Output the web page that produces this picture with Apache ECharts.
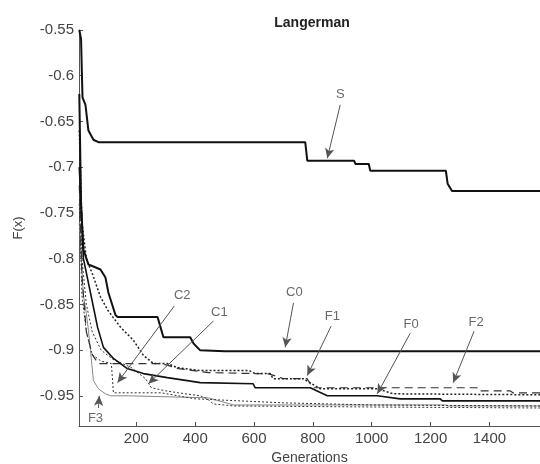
<!DOCTYPE html>
<html><head><meta charset="utf-8">
<script src="https://cdn.jsdelivr.net/npm/echarts@6/dist/echarts.min.js"></script>
<style>html,body{margin:0;padding:0;background:#fff}#c{width:540px;height:464px}</style>
</head><body><div id="c"></div>
<script>
const chartTitle = 'Langerman';
const xName = 'Generations';
const yName = 'F(x)';
const xTicks = [200, 400, 600, 800, 1000, 1200, 1400];
const yTicks = [-0.95, -0.9, -0.85, -0.8, -0.75, -0.7, -0.65, -0.6, -0.55];

const S  = [[6,-0.55],[12,-0.56],[15,-0.60],[17,-0.624],[27,-0.632],[37,-0.660],[54,-0.670],[71,-0.6727],[774,-0.6727],[781,-0.6929],[940,-0.6929],[945,-0.6966],[990,-0.6966],[995,-0.7039],[1252,-0.7039],[1258,-0.718],[1273,-0.726],[1572,-0.726]];
const C0 = [[6,-0.62],[12,-0.74],[20,-0.79],[37,-0.8064],[54,-0.8086],[78,-0.8119],[95,-0.8207],[105,-0.8373],[129,-0.8616],[136,-0.8638],[272,-0.8638],[282,-0.8749],[292,-0.8859],[383,-0.8859],[394,-0.8926],[417,-0.9003],[500,-0.9014],[1572,-0.9014]];
const F1 = [[6,-0.66],[15,-0.76],[30,-0.80],[54,-0.8196],[61,-0.8263],[78,-0.8417],[102,-0.8561],[146,-0.8749],[190,-0.8893],[224,-0.9058],[258,-0.9147],[305,-0.9147],[339,-0.9191],[417,-0.9224],[584,-0.9224],[604,-0.9257],[655,-0.9257],[665,-0.9312],[767,-0.9312],[825,-0.9423],[1019,-0.9423],[1073,-0.9478],[1572,-0.9489]];
const F0 = [[6,-0.70],[20,-0.80],[44,-0.8373],[68,-0.8749],[88,-0.8970],[122,-0.9091],[169,-0.9202],[224,-0.9257],[305,-0.9301],[373,-0.9334],[417,-0.9356],[597,-0.9368],[604,-0.9412],[791,-0.9412],[849,-0.9500],[1019,-0.9500],[1097,-0.9533],[1233,-0.9533],[1240,-0.9555],[1572,-0.9555]];
const F2 = [[6,-0.72],[15,-0.82],[30,-0.88],[50,-0.905],[71,-0.9147],[285,-0.9147],[343,-0.9202],[445,-0.9246],[650,-0.9260],[700,-0.9312],[780,-0.9312],[800,-0.9412],[1358,-0.9412],[1362,-0.9445],[1470,-0.9445],[1480,-0.9467],[1572,-0.9467]];
const C1 = [[6,-0.70],[15,-0.80],[30,-0.85],[50,-0.88],[80,-0.90],[120,-0.91],[183,-0.9191],[231,-0.9312],[251,-0.9412],[299,-0.9445],[343,-0.9467],[417,-0.9500],[441,-0.9533],[462,-0.9589],[530,-0.9611],[1000,-0.9622],[1572,-0.9633]];
const C2 = [[6,-0.74],[15,-0.84],[30,-0.88],[50,-0.905],[80,-0.912],[115,-0.9147],[119,-0.9147],[122,-0.9467],[285,-0.9467],[400,-0.9533],[700,-0.9577],[1000,-0.9600],[1572,-0.9611]];
const F3 = [[6,-0.76],[20,-0.84],[30,-0.86],[37,-0.8782],[44,-0.9003],[54,-0.9334],[71,-0.9423],[95,-0.9478],[112,-0.9500],[173,-0.9500],[445,-0.9522],[530,-0.9600],[1250,-0.9600],[1260,-0.9611],[1572,-0.9611]];

// annotations: [label, labelX, labelY, arrowStartX, arrowStartY, arrowEndX, arrowEndY]
const annotations = [
  ['S', 893, -0.6207, 893, -0.6318, 849, -0.6903],
  ['C0', 737, -0.8373, 734, -0.8484, 706, -0.8970],
  ['C2', 356, -0.8406, 329, -0.8517, 136, -0.9356],
  ['C1', 482, -0.8583, 462, -0.8682, 241, -0.9368],
  ['F1', 866, -0.8627, 862, -0.8738, 781, -0.9279],
  ['F0', 1134, -0.8716, 1131, -0.8815, 1019, -0.9478],
  ['F2', 1355, -0.8694, 1348, -0.8793, 1277, -0.9356],
  ['F3', 61, -0.9743, 71, -0.9633, 74, -0.9500]
];

const font = 'Liberation Sans, Arial, sans-serif';
const chart = echarts.init(document.getElementById('c'), null, {renderer: 'canvas'});

function line(name, data, color, width, type) {
  return {name, type: 'line', data, showSymbol: false, symbol: 'none', silent: true,
    lineStyle: {color, width, type}, z: 3, clip: true};
}

const option = {
  animation: false,
  backgroundColor: '#fff',
  title: {text: chartTitle, left: 307, top: 11, textAlign: 'center',
    textStyle: {fontFamily: font, fontSize: 14, fontWeight: 'bold', color: '#222'}},
  grid: {left: 79, right: 0, top: 30, bottom: 38, containLabel: false, outerBoundsMode: 'none'},
  xAxis: {type: 'value', min: 5, max: 1572, name: xName, nameLocation: 'middle', nameGap: 24,
    nameTextStyle: {fontFamily: font, fontSize: 14, color: '#444'},
    axisLine: {show: true, lineStyle: {color: '#555', width: 1}},
    axisTick: {show: true, inside: true, length: 4, customValues: xTicks, lineStyle: {color: '#555'}},
    axisLabel: {customValues: xTicks, fontFamily: font, fontSize: 15, color: '#444', margin: 5,
      formatter: v => String(Math.round(v))},
    splitLine: {show: false}},
  yAxis: {type: 'value', min: -0.983, max: -0.55, name: yName, nameLocation: 'middle', nameGap: 54,
    nameTextStyle: {fontFamily: font, fontSize: 13, color: '#444'},
    axisLine: {show: true, lineStyle: {color: '#555', width: 1}},
    axisTick: {show: true, inside: true, length: 4, customValues: yTicks, lineStyle: {color: '#555'}},
    axisLabel: {customValues: yTicks, fontFamily: font, fontSize: 15, color: '#444', margin: 5,
      formatter: v => String(+v.toFixed(2))},
    splitLine: {show: false}},
  series: [
    line('F3', F3, '#888', 1, 'solid'),
    line('C2', C2, '#333', 1, [2, 2]),
    line('C1', C1, '#333', 1, [2, 2]),
    line('F2', F2, '#333', 1.2, [8, 5]),
    line('F0', F0, '#111', 1.6, 'solid'),
    line('F1', F1, '#222', 1.5, [2, 2]),
    line('C0', C0, '#111', 2, 'solid'),
    line('S', S, '#111', 2, 'solid'),
    {name: 'annot', type: 'scatter', symbolSize: 0, silent: true, z: 5,
      data: annotations.map(a => ({value: [a[1], a[2]], name: a[0]})),
      label: {show: true, position: 'inside', formatter: p => p.name,
        fontFamily: font, fontSize: 13, color: '#444'},
      markLine: {silent: true, symbol: ['none', 'arrow'], symbolSize: [7, 10],
        label: {show: false}, lineStyle: {color: '#555', width: 1, type: 'solid'},
        data: annotations.map(a => [{coord: [a[3], a[4]]}, {coord: [a[5], a[6]]}])}}
  ]
};
chart.setOption(option);
</script></body></html>
